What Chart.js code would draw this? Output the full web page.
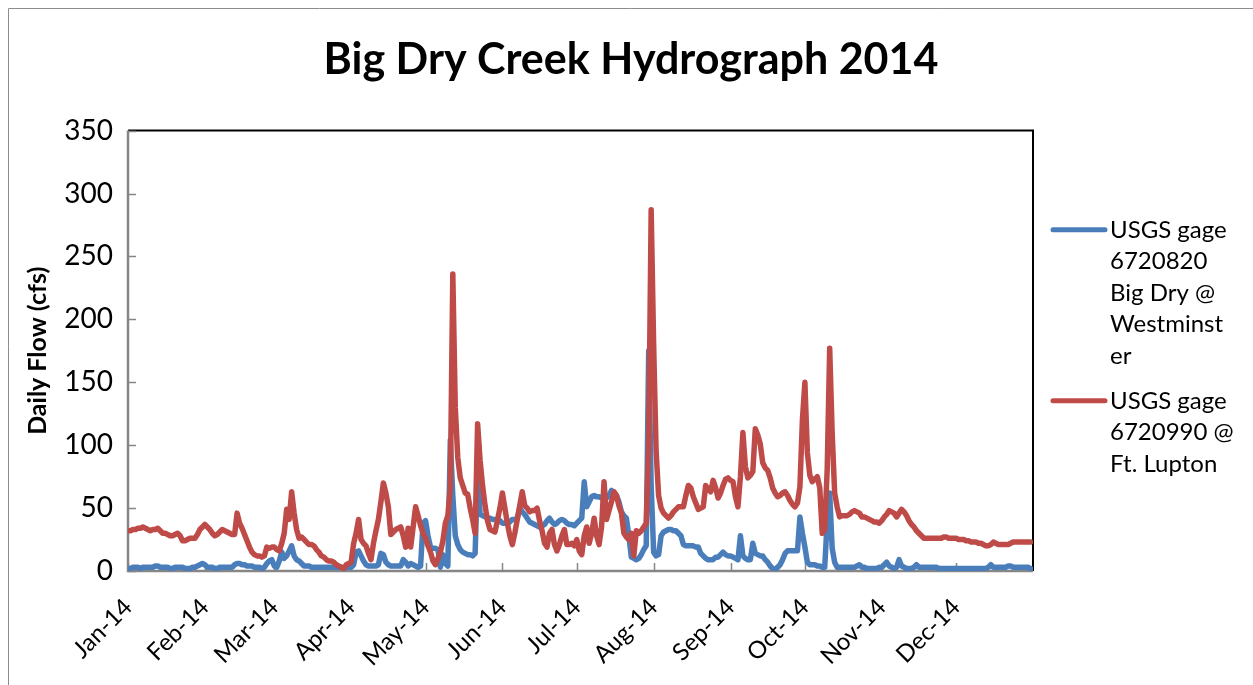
<!DOCTYPE html>
<html>
<head>
<meta charset="utf-8">
<title>Big Dry Creek Hydrograph 2014</title>
<script src="https://cdn.jsdelivr.net/npm/chart.js@4"></script>
<style>
  html, body { margin: 0; padding: 0; background: #fff; }
</style>
</head>
<body>
<canvas id="hydro" width="1253" height="685"></canvas>
<script>
// month tick labels and the day of the year each month starts on
const monthLabels = ["Jan-14", "Feb-14", "Mar-14", "Apr-14", "May-14", "Jun-14",
                     "Jul-14", "Aug-14", "Sep-14", "Oct-14", "Nov-14", "Dec-14"];
const monthStarts = [0, 31, 59, 90, 120, 151, 181, 212, 243, 273, 304, 334];

// y axis range (cfs)
const flowMax = 350;
const flowStep = 50;

// daily flow, cfs, 1 Jan - 31 Dec 2014 (index = day of year - 1)
const westminsterFlow = [
  2,2,3,3,3,2,3,3,3,3,  3,4,4,3,3,3,3,2,2,3,  3,3,3,2,2,2,3,3,4,5,
  6,5,3,3,3,2,2,3,3,3,  3,3,3,5,6,6,5,5,4,4,  4,3,3,3,2,3,6,8,9,4,
  3,8,15,10,12,16,20,12,9,8,  6,4,4,4,3,3,3,3,3,3,  3,3,3,3,3,3,3,2,3,3,
  3,5,15,16,12,8,5,4,4,4,  4,5,14,13,7,5,4,4,4,4,  4,9,7,4,6,5,4,3,4,38,
  40,28,19,18,18,17,3,13,6,4,  104,60,28,21,17,15,14,13,13,12,  14,80,45,44,43,42,42,41,41,41,
  40,38,38,38,39,41,41,42,50,47,  45,42,39,38,37,36,35,36,37,40,  42,39,37,38,40,41,40,38,37,37,
  36,38,40,42,71,51,55,59,60,59,  59,58,58,58,60,64,62,60,55,47,  44,42,28,11,10,9,10,13,17,20,
  175,68,15,12,13,28,31,32,33,33,  32,32,30,28,21,20,20,20,20,19,  19,14,12,10,9,9,9,11,11,13,
  15,13,12,12,11,10,9,28,12,10,  9,9,22,14,13,12,12,9,7,4,  2,1,3,5,9,14,16,16,16,16,
  16,43,30,19,7,5,5,5,4,4,  3,3,40,62,18,7,3,3,3,3,  3,3,3,3,4,5,3,3,2,2,
  2,2,2,3,3,5,7,4,3,2,  3,9,4,3,2,2,2,3,5,3,  3,3,3,3,3,3,3,2,2,2,
  2,2,2,2,2,2,2,2,2,2,  2,2,2,2,2,2,2,3,5,3,  3,3,3,3,3,4,4,3,3,3,
  3,3,3,3,2
];

const ftLuptonFlow = [
  32,32,33,33,34,34,35,34,33,32,  33,33,34,32,30,30,29,28,28,29,  30,28,24,24,25,26,26,26,29,33,
  35,37,35,33,30,28,29,31,33,32,  31,30,29,29,46,38,34,29,24,19,  15,13,12,12,11,12,19,18,19,19,
  17,16,22,30,49,41,63,46,33,26,  27,25,23,21,21,20,17,15,12,11,  9,8,8,7,5,4,3,2,5,6,
  7,22,30,41,25,22,20,14,9,22,  32,41,55,70,62,51,29,31,33,34,  35,28,19,34,19,35,51,44,36,30,
  26,20,15,8,5,10,15,24,38,44,  67,236,130,90,74,68,62,61,50,41,  30,117,88,68,52,40,33,32,31,40,
  50,62,50,38,28,21,30,41,52,63,  52,50,47,48,48,50,40,32,22,19,  30,33,21,16,21,28,33,21,21,22,
  20,25,16,13,28,35,22,30,42,28,  21,35,71,41,48,55,63,60,52,46,  30,27,25,30,12,32,30,32,35,38,
  100,287,180,95,60,50,46,44,42,44,  47,49,51,51,51,60,68,66,59,54,  49,50,51,68,65,63,72,66,58,62,
  68,73,74,72,71,59,51,75,110,83,  74,76,79,113,108,101,86,82,80,74,  66,62,59,60,62,63,60,56,53,51,
  54,67,120,150,94,76,71,73,75,66,  30,33,81,177,110,62,51,43,44,44,  44,45,47,48,47,46,43,43,42,41,
  40,39,39,38,40,43,45,48,47,46,  43,46,49,47,44,40,37,35,32,30,  28,26,26,26,26,26,26,26,26,27,
  27,26,26,26,26,25,25,25,24,24,  23,23,23,22,22,21,20,20,21,23,  22,21,21,21,21,21,22,23,23,23,
  23,23,23,23,23
];

// legend text, wrapped the way it is laid out beside the plot
const westminsterLegend = ["USGS gage", "6720820", "Big Dry @", "Westminst", "er"];
const ftLuptonLegend = ["USGS gage", "6720990 @", "Ft. Lupton"];

const BLUE = '#4A7EBB';
const RED = '#BE4B48';
const AXIS_GREY = '#868686';

Chart.defaults.font.family = 'Lato, "Open Sans", sans-serif';
Chart.defaults.color = '#000';

// thin frame round the whole chart
const outerFrame = {
  id: 'outerFrame',
  beforeDraw(chart) {
    const ctx = chart.ctx;
    ctx.save();
    ctx.strokeStyle = '#8c8c8c';
    ctx.lineWidth = 1;
    ctx.beginPath();
    ctx.moveTo(8.5, chart.height);
    ctx.lineTo(8.5, 8.5);
    ctx.lineTo(chart.width, 8.5);
    ctx.stroke();
    ctx.restore();
  }
};

// black box top/right, grey axes left/bottom with ticks pointing inwards
const plotFrame = {
  id: 'plotFrame',
  beforeDatasetsDraw(chart) {
    const { ctx, chartArea: a, scales } = chart;
    ctx.save();
    ctx.strokeStyle = '#000';
    ctx.lineWidth = 2;
    ctx.beginPath();
    ctx.moveTo(a.left, a.top);
    ctx.lineTo(a.right, a.top);
    ctx.lineTo(a.right, a.bottom);
    ctx.stroke();

    ctx.strokeStyle = AXIS_GREY;
    ctx.lineWidth = 2.5;
    ctx.beginPath();
    ctx.moveTo(a.left, a.top);
    ctx.lineTo(a.left, a.bottom);
    ctx.lineTo(a.right, a.bottom);
    ctx.stroke();

    ctx.lineWidth = 1.5;
    ctx.beginPath();
    scales.y.ticks.forEach(t => {
      const y = Math.round(scales.y.getPixelForValue(t.value)) + 0.5;
      ctx.moveTo(a.left, y);
      ctx.lineTo(a.left + 8, y);
    });
    scales.x.ticks.forEach(t => {
      const x = Math.round(scales.x.getPixelForValue(t.value)) + 0.5;
      ctx.moveTo(x, a.bottom);
      ctx.lineTo(x, a.bottom - 8);
    });
    ctx.stroke();
    ctx.restore();
  }
};

// legend on the right with wrapped labels
const sideLegend = {
  id: 'sideLegend',
  afterDraw(chart) {
    const { ctx, chartArea: a } = chart;
    const lineStep = 31.5;
    const itemGap = 13.5;
    const items = chart.data.datasets.map(ds => ({ color: ds.borderColor, lines: ds.legendLines }));
    const nLines = items.reduce((n, it) => n + it.lines.length, 0);
    const blockH = (nLines - 1) * lineStep + (items.length - 1) * itemGap;
    let y = (a.top + a.bottom) / 2 - 4 - blockH / 2;
    const x0 = a.right + 20;
    ctx.save();
    ctx.font = '24px Lato, "Open Sans", sans-serif';
    ctx.fillStyle = '#000';
    ctx.textBaseline = 'middle';
    ctx.textAlign = 'left';
    items.forEach(it => {
      ctx.strokeStyle = it.color;
      ctx.lineWidth = 5;
      ctx.lineCap = 'round';
      ctx.beginPath();
      ctx.moveTo(x0, y);
      ctx.lineTo(x0 + 52, y);
      ctx.stroke();
      it.lines.forEach((t, i) => ctx.fillText(t, x0 + 57, y + i * lineStep));
      y += it.lines.length * lineStep + itemGap;
    });
    ctx.restore();
  }
};

const toPoints = arr => arr.map((v, i) => ({ x: i, y: v }));

new Chart(document.getElementById('hydro'), {
  type: 'line',
  data: {
    datasets: [
      {
        label: westminsterLegend.join(' '),
        legendLines: westminsterLegend,
        data: toPoints(westminsterFlow),
        borderColor: BLUE,
        order: 2
      },
      {
        label: ftLuptonLegend.join(' '),
        legendLines: ftLuptonLegend,
        data: toPoints(ftLuptonFlow),
        borderColor: RED,
        order: 1
      }
    ]
  },
  options: {
    responsive: false,
    animation: false,
    devicePixelRatio: 1,
    layout: { padding: { left: 9, right: 0, top: 0, bottom: 0 } },
    elements: {
      line: { borderWidth: 5.5, tension: 0, borderJoinStyle: 'round', borderCapStyle: 'round', fill: false },
      point: { radius: 0, hoverRadius: 0 }
    },
    plugins: {
      legend: { display: false },
      tooltip: { enabled: false },
      title: {
        display: true,
        text: 'Big Dry Creek Hydrograph 2014',
        font: { size: 43, weight: 'bold' },
        color: '#000',
        padding: { top: 34, bottom: 45 }
      }
    },
    scales: {
      x: {
        type: 'linear',
        min: 0,
        max: 365,
        grid: { display: false, drawTicks: false },
        border: { display: false },
        afterBuildTicks: scale => {
          scale.ticks = monthStarts.map(v => ({ value: v }));
        },
        afterFit: scale => { scale.height = 114; },
        ticks: {
          autoSkip: false,
          maxRotation: 45,
          minRotation: 45,
          padding: 22,
          font: { size: 24 },
          callback: (value) => monthLabels[monthStarts.indexOf(value)]
        }
      },
      y: {
        min: 0,
        max: flowMax,
        grid: { display: false, drawTicks: false },
        border: { display: false },
        afterFit: scale => { scale.width = 119; },
        ticks: { stepSize: flowStep, padding: 15, font: { size: 28 } },
        title: {
          display: true,
          text: 'Daily Flow (cfs)',
          font: { size: 25, weight: 'bold' },
          padding: { top: 14, bottom: 0 }
        }
      },
      // empty strip on the right that holds the legend
      legendStrip: {
        position: 'right',
        grid: { display: false, drawTicks: false },
        border: { display: false },
        ticks: { display: false },
        afterFit: scale => { scale.width = 220; }
      }
    }
  },
  plugins: [outerFrame, plotFrame, sideLegend]
});
</script>
</body>
</html>
